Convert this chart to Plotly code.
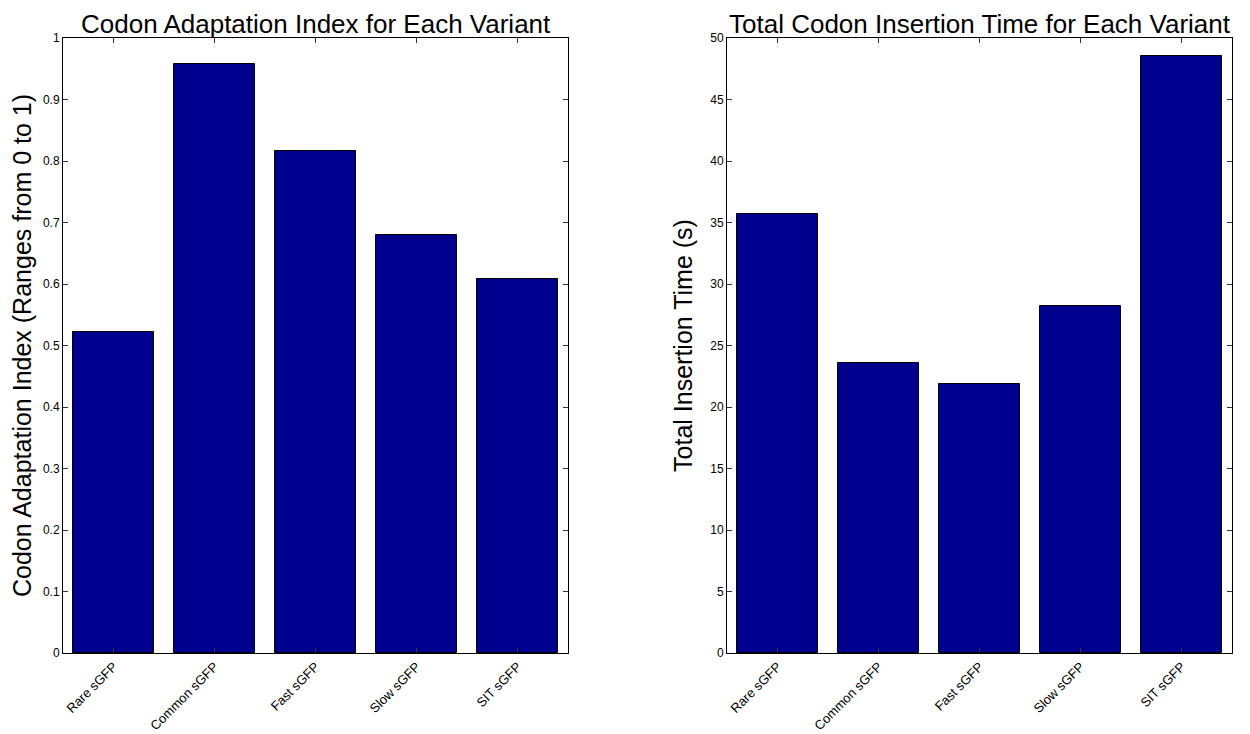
import plotly.graph_objects as go

categories = ["Rare sGFP", "Common sGFP", "Fast sGFP", "Slow sGFP", "SIT sGFP"]
cai_values = [0.522, 0.957, 0.817, 0.680, 0.608]
time_values = [35.7, 23.6, 21.9, 28.2, 48.5]

bar_color = "#00008F"
font_family = "Liberation Sans, Arial, sans-serif"

fig = go.Figure()
xpos = [1, 2, 3, 4, 5]
fig.add_trace(go.Bar(x=xpos, y=cai_values, width=0.8, marker=dict(color=bar_color, line=dict(color="black", width=1)),
                     xaxis="x", yaxis="y", showlegend=False))
fig.add_trace(go.Bar(x=xpos, y=time_values, width=0.8, marker=dict(color=bar_color, line=dict(color="black", width=1)),
                     xaxis="x2", yaxis="y2", showlegend=False))

W, H = 1242, 726
ydom = [1 - 645 / H, 1 - 30 / H]
common_x = dict(range=[0.5, 5.5], tickmode="array", tickvals=xpos, ticktext=categories, tickangle=-45,
                ticks="inside", ticklen=5, tickcolor="#333", showline=True, linecolor="black", linewidth=1,
                mirror="allticks", showgrid=False, zeroline=False, automargin=False,
                tickfont=dict(size=13, color="black", family=font_family))
common_y = dict(ticks="inside", ticklen=5, tickcolor="#333", showline=True, linecolor="black", linewidth=1,
                mirror="allticks", showgrid=False, zeroline=False, automargin=False,
                tickfont=dict(size=12, color="black", family=font_family))

fig.update_layout(
    width=W, height=H,
    margin=dict(l=0, r=0, t=0, b=0),
    plot_bgcolor="white", paper_bgcolor="white",
    font=dict(family=font_family, color="black"),
    bargap=0,
    xaxis=dict(domain=[55 / W, 560 / W], anchor="y", **common_x),
    yaxis=dict(domain=ydom, anchor="x", range=[0, 1], dtick=0.1,
               title=dict(text="Codon Adaptation Index (Ranges from 0 to 1)", font=dict(size=25, family=font_family), standoff=10),
               **common_y),
    xaxis2=dict(domain=[719 / W, 1224 / W], anchor="y2", **common_x),
    yaxis2=dict(domain=ydom, anchor="x2", range=[0, 50], dtick=5,
                title=dict(text="Total Insertion Time (s)", font=dict(size=25, family=font_family), standoff=10),
                **common_y),
    annotations=[
        dict(text="Codon Adaptation Index for Each Variant", x=307.5 / W, y=ydom[1], xref="paper", yref="paper",
             xanchor="center", yanchor="bottom", showarrow=False, yshift=-3, font=dict(size=26, family=font_family)),
        dict(text="Total Codon Insertion Time for Each Variant", x=971.5 / W, y=ydom[1], xref="paper", yref="paper",
             xanchor="center", yanchor="bottom", showarrow=False, yshift=-3, font=dict(size=26, family=font_family)),
    ],
)

fig.write_html("out.html")
